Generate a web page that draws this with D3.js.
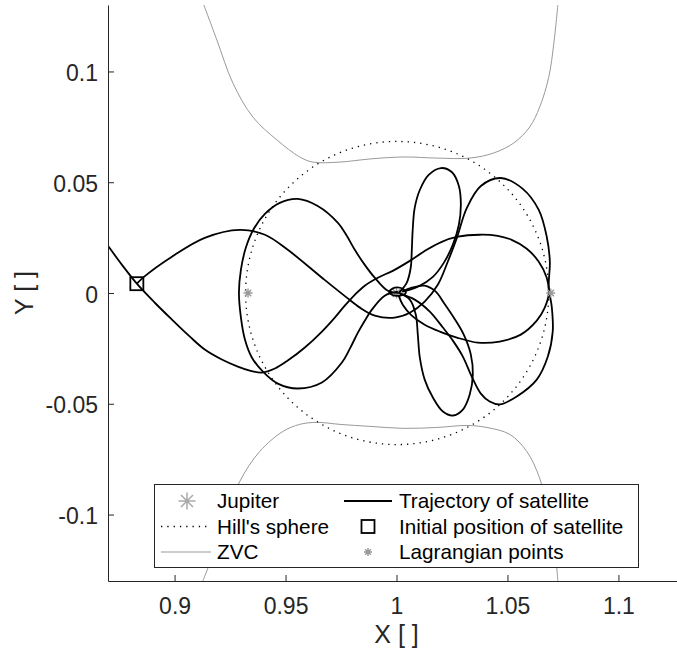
<!DOCTYPE html>
<html><head><meta charset="utf-8">
<script src="https://cdn.jsdelivr.net/npm/d3@7"></script>
<style>body{margin:0;background:#fff}</style>
</head><body>
<script>
// ---- data ----
const xDomain = [0.87, 1.13];
const yDomain = [-0.13, 0.13];
const xTicks = [0.9, 0.95, 1, 1.05, 1.1];
const xTickLabels = ["0.9", "0.95", "1", "1.05", "1.1"];
const yTicks = [-0.1, -0.05, 0, 0.05, 0.1];
const yTickLabels = ["-0.1", "-0.05", "0", "0.05", "0.1"];

const jupiter = [1.0, 0.0];
const lagrangePoints = [[0.9331, 0.0], [1.0695, 0.0]];
const initialPosition = [0.8830, 0.0042];
const hillCenter = [1.0003, 0.0];
const hillRadius = 0.0683;

const zvcUpper = [[0.9132,0.1300],[0.9191,0.1141],[0.9263,0.0947],[0.9353,0.0794],[0.9461,0.0691],[0.9564,0.0614],[0.9623,0.0591],[0.9745,0.0591],[0.9880,0.0605],[1.0033,0.0614],[1.0182,0.0609],[1.0330,0.0609],[1.0438,0.0632],[1.0528,0.0677],[1.0600,0.0749],[1.0645,0.0839],[1.0686,0.0974],[1.0709,0.1127],[1.0727,0.1300]];
const zvcLower = [[0.9127,-0.1300],[0.9150,-0.1242],[0.9218,-0.1044],[0.9294,-0.0850],[0.9384,-0.0715],[0.9488,-0.0625],[0.9564,-0.0593],[0.9641,-0.0584],[0.9745,-0.0593],[0.9880,-0.0602],[1.0033,-0.0611],[1.0182,-0.0607],[1.0317,-0.0598],[1.0407,-0.0607],[1.0510,-0.0638],[1.0587,-0.0715],[1.0645,-0.0836],[1.0691,-0.1020],[1.0722,-0.1242],[1.0727,-0.1300]];

// trajectory pieces (each passes close to Jupiter)
const trajA = [[0.8700,0.0213],[0.8763,0.0127],[0.8830,0.0042],[0.8911,-0.0044],[0.8988,-0.0120],[0.9069,-0.0197],[0.9136,-0.0255],[0.9213,-0.0300],[0.9285,-0.0332],[0.9339,-0.0350],[0.9393,-0.0359],[0.9452,-0.0341],[0.9510,-0.0305],[0.9587,-0.0246],[0.9664,-0.0174],[0.9722,-0.0111],[0.9767,-0.0057],[0.9812,-0.0008],[0.9857,0.0033],[0.9916,0.0069],[0.9983,0.0100],[1.0060,0.0145],[1.0136,0.0195],[1.0204,0.0231],[1.0276,0.0254],[1.0375,0.0263],[1.0456,0.0258],[1.0519,0.0240],[1.0587,0.0200],[1.0641,0.0141],[1.0677,0.0069],[1.0686,-0.0003],[1.0668,-0.0066],[1.0632,-0.0125],[1.0560,-0.0188],[1.0465,-0.0219],[1.0366,-0.0224],[1.0272,-0.0201],[1.0195,-0.0174],[1.0127,-0.0143],[1.0069,-0.0102],[1.0028,-0.0053],[1.0010,-0.0012]];
const trajB1 = [[1.0010,0.0001],[1.0046,0.0046],[1.0064,0.0114],[1.0069,0.0195],[1.0073,0.0285],[1.0082,0.0384],[1.0105,0.0465],[1.0145,0.0533],[1.0200,0.0564],[1.0249,0.0546],[1.0281,0.0483],[1.0290,0.0398],[1.0281,0.0308],[1.0254,0.0218],[1.0213,0.0136],[1.0164,0.0073],[1.0096,0.0028],[1.0028,0.0006]];
const trajB2 = [[1.0010,0.0001],[1.0060,-0.0030],[1.0087,-0.0098],[1.0096,-0.0188],[1.0105,-0.0291],[1.0127,-0.0391],[1.0164,-0.0472],[1.0209,-0.0535],[1.0254,-0.0553],[1.0299,-0.0526],[1.0330,-0.0458],[1.0344,-0.0368],[1.0335,-0.0278],[1.0303,-0.0188],[1.0258,-0.0111],[1.0213,-0.0044],[1.0177,0.0006],[1.0127,0.0033],[1.0069,0.0024],[1.0024,0.0006]];
const trajC = [[1.0010,0.0001],[0.9961,0.0010],[0.9902,0.0069],[0.9857,0.0127],[0.9812,0.0195],[0.9776,0.0258],[0.9736,0.0317],[0.9645,0.0393],[0.9555,0.0425],[0.9474,0.0407],[0.9407,0.0357],[0.9357,0.0290],[0.9321,0.0204],[0.9299,0.0105],[0.9290,0.0001],[0.9299,-0.0111],[0.9317,-0.0210],[0.9348,-0.0291],[0.9398,-0.0355],[0.9465,-0.0409],[0.9555,-0.0431],[0.9664,-0.0404],[0.9754,-0.0314],[0.9790,-0.0251],[0.9826,-0.0179],[0.9857,-0.0125],[0.9889,-0.0075],[0.9947,-0.0012],[1.0006,0.0006]];
const trajD = [[1.0015,-0.0003],[1.0082,-0.0030],[1.0150,-0.0084],[1.0209,-0.0156],[1.0254,-0.0215],[1.0299,-0.0287],[1.0339,-0.0377],[1.0380,-0.0454],[1.0420,-0.0490],[1.0465,-0.0503],[1.0542,-0.0467],[1.0632,-0.0391],[1.0682,-0.0287],[1.0704,-0.0174],[1.0700,-0.0066],[1.0686,0.0028],[1.0691,0.0141],[1.0677,0.0254],[1.0641,0.0375],[1.0569,0.0470],[1.0470,0.0519],[1.0380,0.0483],[1.0317,0.0384],[1.0272,0.0249],[1.0231,0.0141],[1.0186,0.0037],[1.0127,-0.0039],[1.0060,-0.0089],[0.9992,-0.0111],[0.9902,-0.0102],[0.9835,-0.0066],[0.9776,-0.0021],[0.9664,0.0069],[0.9510,0.0195],[0.9407,0.0263],[0.9294,0.0285],[0.9136,0.0249],[0.8988,0.0164],[0.8862,0.0073],[0.8830,0.0042]];
const trajE = [[0.9965,0.0006],[0.9992,0.0024],[1.0028,0.0019],[1.0042,0.0001],[1.0015,-0.0012],[0.9979,-0.0008],[0.9965,0.0006]];

const legendLabels = ["Jupiter", "Hill's sphere", "ZVC", "Trajectory of satellite", "Initial position of satellite", "Lagrangian points"];
const xLabel = "X [ ]";
const yLabel = "Y [ ]";

// ---- layout ----
const W = 677, H = 652;
const m = {left: 108, top: 5, right: 685, bottom: 581};
const axisColor = "#262626";
const font = "'Liberation Sans', Arial, Helvetica, sans-serif";

const x = d3.scaleLinear().domain(xDomain).range([m.left, m.right]);
const y = d3.scaleLinear().domain(yDomain).range([m.bottom, m.top]);

const svg = d3.select("body").append("svg").attr("width", W).attr("height", H)
  .style("font-family", font);

svg.append("defs").append("clipPath").attr("id", "clip")
  .append("rect").attr("x", m.left).attr("y", m.top)
  .attr("width", m.right - m.left).attr("height", m.bottom - m.top);

const plot = svg.append("g").attr("clip-path", "url(#clip)");
const smooth = d3.line().x(d => x(d[0])).y(d => y(d[1])).curve(d3.curveCatmullRom.alpha(0.5));

function starPath(s) {
  const r = s / 2, d = r * Math.SQRT1_2;
  return `M${-r},0L${r},0M0,${-r}L0,${r}M${-d},${-d}L${d},${d}M${-d},${d}L${d},${-d}`;
}

// ZVC
[zvcUpper, zvcLower].forEach(c => plot.append("path").attr("d", smooth(c))
  .attr("fill", "none").attr("stroke", "#999").attr("stroke-width", 1));

// Hill's sphere
plot.append("circle").attr("cx", x(hillCenter[0])).attr("cy", y(hillCenter[1]))
  .attr("r", x(hillCenter[0] + hillRadius) - x(hillCenter[0]))
  .attr("fill", "none").attr("stroke", "#000").attr("stroke-width", 1.3)
  .attr("stroke-dasharray", "1.3,5");

// Jupiter
plot.append("path").attr("transform", `translate(${x(jupiter[0])},${y(jupiter[1])})`)
  .attr("d", starPath(11)).attr("stroke", "#999").attr("stroke-width", 1.4).attr("fill", "none");

// trajectory
[trajA, trajB1, trajB2, trajC, trajD, trajE].forEach(t => plot.append("path").attr("d", smooth(t))
  .attr("fill", "none").attr("stroke", "#000").attr("stroke-width", 1.8)
  .attr("stroke-linejoin", "round"));

// initial position
plot.append("rect").attr("x", x(initialPosition[0]) - 6.5).attr("y", y(initialPosition[1]) - 6.5)
  .attr("width", 13).attr("height", 13).attr("fill", "none").attr("stroke", "#000").attr("stroke-width", 1.8);

// Lagrangian points
plot.selectAll(".lp").data(lagrangePoints).join("path")
  .attr("transform", d => `translate(${x(d[0])},${y(d[1])})`)
  .attr("d", starPath(9)).attr("stroke", "#999").attr("stroke-width", 1.4).attr("fill", "none");

// axes
const xAxis = svg.append("g").attr("transform", `translate(0,${m.bottom})`)
  .call(d3.axisBottom(x).tickValues(xTicks).tickFormat((d, i) => xTickLabels[i])
    .tickSizeInner(-6).tickSizeOuter(0).tickPadding(16.5));
const yAxis = svg.append("g").attr("transform", `translate(${m.left},0)`)
  .call(d3.axisLeft(y).tickValues(yTicks).tickFormat((d, i) => yTickLabels[i])
    .tickSizeInner(-6).tickSizeOuter(0).tickPadding(10));
[xAxis, yAxis].forEach(a => {
  a.select(".domain").attr("stroke", axisColor).attr("stroke-width", 1);
  a.selectAll(".tick line").attr("stroke", axisColor).attr("stroke-width", 1);
  a.selectAll(".tick text").attr("fill", axisColor).style("font-size", "23px").style("font-family", font);
});
yAxis.selectAll(".tick text").attr("dy", "0.4em");

svg.append("text").attr("x", (m.left + m.right) / 2).attr("y", 643).attr("text-anchor", "middle")
  .attr("fill", axisColor).style("font-size", "25px").text(xLabel);
svg.append("text").attr("transform", `translate(33,${(m.top + m.bottom) / 2}) rotate(-90)`)
  .attr("text-anchor", "middle").attr("fill", axisColor).style("font-size", "25px").text(yLabel);

// legend
const lg = svg.append("g");
lg.append("rect").attr("x", 154.5).attr("y", 484.5).attr("width", 484).attr("height", 83)
  .attr("fill", "#fff").attr("stroke", axisColor).attr("stroke-width", 1);
const rowY = [501, 526.5, 552];
const colIcon = [161, 344], colText = [217, 399];
const items = legendLabels.map((label, i) => ({label, col: Math.floor(i / 3), row: i % 3, i}));
items.forEach(it => {
  const cy = rowY[it.row], x0 = colIcon[it.col], cx = x0 + 24;
  if (it.i === 0) {
    lg.append("path").attr("transform", `translate(${cx + 2},${cy})`).attr("d", starPath(17))
      .attr("stroke", "#aaa").attr("stroke-width", 1.5).attr("fill", "none");
  } else if (it.i === 1) {
    lg.append("line").attr("x1", x0).attr("x2", x0 + 50).attr("y1", cy).attr("y2", cy)
      .attr("stroke", "#000").attr("stroke-width", 1.3).attr("stroke-dasharray", "1.3,5");
  } else if (it.i === 2) {
    lg.append("line").attr("x1", x0).attr("x2", x0 + 50).attr("y1", cy).attr("y2", cy)
      .attr("stroke", "#999").attr("stroke-width", 1);
  } else if (it.i === 3) {
    lg.append("line").attr("x1", x0).attr("x2", x0 + 48).attr("y1", cy).attr("y2", cy)
      .attr("stroke", "#000").attr("stroke-width", 1.8);
  } else if (it.i === 4) {
    lg.append("rect").attr("x", cx - 6.5).attr("y", cy - 6.5).attr("width", 13).attr("height", 13)
      .attr("fill", "none").attr("stroke", "#000").attr("stroke-width", 1.8);
  } else {
    lg.append("path").attr("transform", `translate(${cx},${cy})`).attr("d", starPath(8))
      .attr("stroke", "#999").attr("stroke-width", 1.4).attr("fill", "none");
  }
  lg.append("text").attr("x", colText[it.col]).attr("y", cy).attr("dy", "0.36em")
    .attr("fill", "#000").style("font-size", "20.7px").text(it.label);
});
</script>
</body></html>
